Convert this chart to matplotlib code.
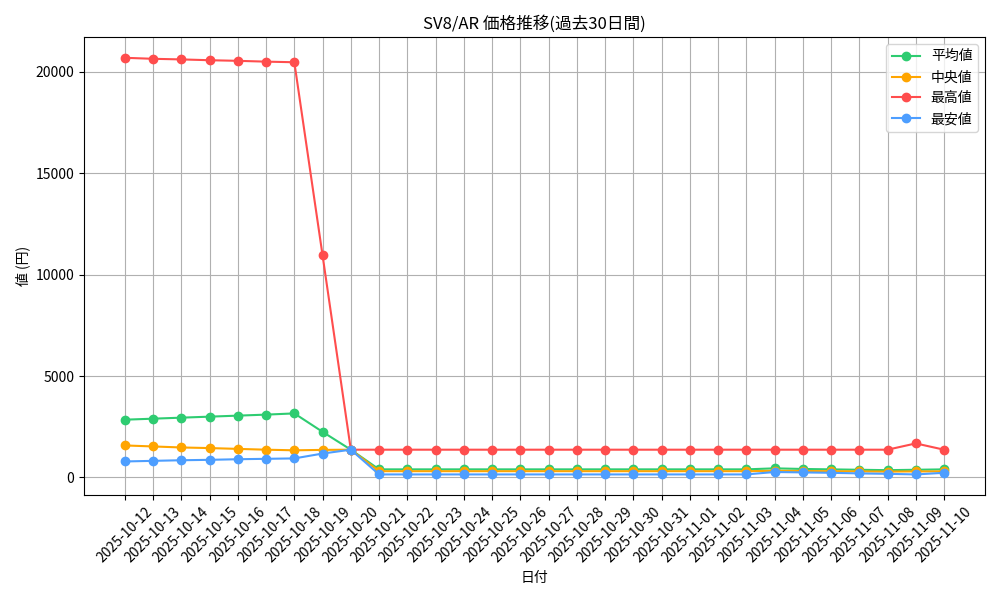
import matplotlib
matplotlib.use("Agg")
import matplotlib.pyplot as plt
import pandas as pd

plt.rcParams['font.family'] = ['Noto Sans CJK JP', 'DejaVu Sans']

dates = [d.strftime('%Y-%m-%d') for d in pd.date_range('2025-10-12', '2025-11-10')]
avg = [2850, 2900, 2950, 3000, 3050, 3100, 3160, 2250, 1370] + [400]*14 + [450, 420, 400, 380, 360, 380, 400]
med = [1580, 1530, 1480, 1450, 1410, 1370, 1340, 1360, 1370] + [310]*14 + [330, 320, 310, 300, 290, 300, 300]
high = [20700, 20650, 20620, 20580, 20550, 20510, 20480, 10950, 1370] + [1370]*19 + [1680, 1370]
low = [790, 820, 850, 870, 900, 920, 940, 1180, 1370] + [150]*14 + [270, 250, 230, 200, 180, 150, 230]

fig, ax = plt.subplots(figsize=(10, 6), dpi=100)
ax.plot(dates, avg, marker='o', color='#2ecc71', label='平均値')
ax.plot(dates, med, marker='o', color='#ffa500', label='中央値')
ax.plot(dates, high, marker='o', color='#ff4d4d', label='最高値')
ax.plot(dates, low, marker='o', color='#4d9eff', label='最安値')
ax.set_title('SV8/AR 価格推移(過去30日間)')
ax.set_xlabel('日付')
ax.set_ylabel('値 (円)')
ax.grid(True)
ax.legend(loc='upper right')
plt.xticks(rotation=45)
plt.tight_layout()
fig.savefig('out.png')
